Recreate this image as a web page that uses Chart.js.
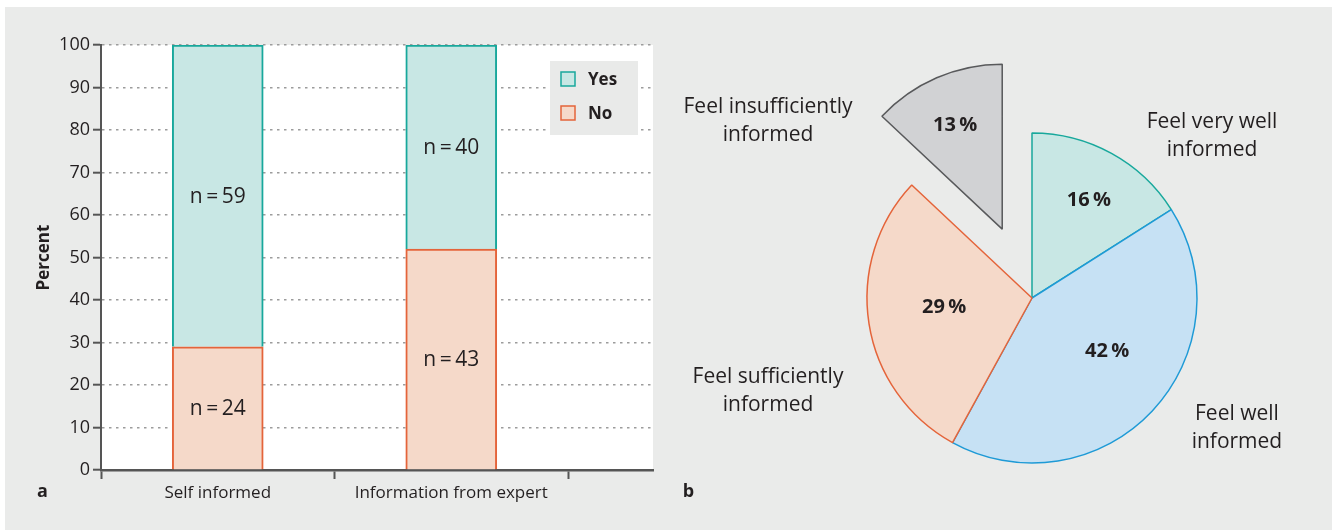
<!DOCTYPE html>
<html>
<head>
<meta charset="utf-8">
<script src="https://cdn.jsdelivr.net/npm/chart.js@4.4.1/dist/chart.umd.min.js"></script>
<style>
  html, body { margin: 0; padding: 0; background: #ffffff; }
  #wrap { position: relative; width: 1332px; height: 530px; overflow: hidden; background: #ffffff; }
  #panel { position: absolute; left: 5px; top: 7px; right: 0; bottom: 0; background: #eaebea; }
  #c1 { position: absolute; left: 0; top: 0; }
  #c2 { position: absolute; left: 660px; top: 0; }
</style>
</head>
<body>
<div id="wrap">
  <div id="panel"></div>
  <canvas id="c1" width="660" height="530"></canvas>
  <canvas id="c2" width="672" height="530"></canvas>
</div>
<script>
// ---------- data ----------
const categories = ['Self informed', 'Information from expert'];
const noPercent = [29, 52];
const yesPercent = [71, 48];
const noCount = [24, 43];
const yesCount = [59, 40];
const yTickValues = [0, 10, 20, 30, 40, 50, 60, 70, 80, 90, 100];

const pieLabels = [
  ['Feel very well', 'informed'],
  ['Feel well', 'informed'],
  ['Feel sufficiently', 'informed'],
  ['Feel insufficiently', 'informed']
];
const pieValues = [16, 42, 29, 13];

// ---------- styles ----------
const FONT = '"Open Sans", "DejaVu Sans", sans-serif';
const TEXT = '#231f20';
const AXIS = '#555555';
const TEAL_FILL = '#c8e7e4', TEAL_LINE = '#18a89c';
const PEACH_FILL = '#f5d9c9', PEACH_LINE = '#e4643a';
const BLUE_FILL = '#c6e1f4', BLUE_LINE = '#1e9ad6';
const GRAY_FILL = '#d1d2d4', GRAY_LINE = '#58595b';

// ---------- bar chart (a) ----------
const barPlugin = {
  id: 'barExtras',
  beforeDraw(chart) {
    const {ctx, chartArea: a} = chart;
    ctx.save();
    ctx.fillStyle = '#ffffff';
    ctx.fillRect(a.left, a.top, a.right - a.left, a.bottom - a.top);
    ctx.restore();
  },
  afterDatasetsDraw(chart) {
    const {ctx, chartArea: a} = chart;
    ctx.save();
    // segment labels
    ctx.font = '21px ' + FONT;
    ctx.fillStyle = TEXT;
    ctx.textAlign = 'center';
    ctx.textBaseline = 'middle';
    chart.data.datasets.forEach((ds, di) => {
      const meta = chart.getDatasetMeta(di);
      meta.data.forEach((el, i) => {
        const cy = (el.y + el.base) / 2;
        ctx.fillText('n\u2009=\u2009' + ds.counts[i], el.x, cy + 1);
      });
    });
    // legend box inside the plot area
    const bx = a.right - 103, by = a.top + 16, bw = 88, bh = 74;
    ctx.fillStyle = '#e9eae9';
    ctx.fillRect(bx, by, bw, bh);
    const order = chart.data.datasets.slice().reverse();
    ctx.font = 'bold 17px ' + FONT;
    ctx.textAlign = 'left';
    order.forEach((ds, k) => {
      const cy = by + 18 + k * 34;
      ctx.fillStyle = ds.backgroundColor;
      ctx.fillRect(bx + 11, cy - 7, 14, 14);
      ctx.strokeStyle = ds.borderColor;
      ctx.lineWidth = 1.5;
      ctx.strokeRect(bx + 11, cy - 7, 14, 14);
      ctx.fillStyle = TEXT;
      ctx.fillText(ds.label, bx + 38, cy + 1);
    });
    ctx.restore();
  },
  afterDraw(chart) {
    const {ctx} = chart;
    ctx.save();
    ctx.font = 'bold 18px ' + FONT;
    ctx.fillStyle = TEXT;
    ctx.textAlign = 'center';
    ctx.textBaseline = 'alphabetic';
    ctx.fillText('a', 42.5, 497);
    ctx.restore();
  }
};

const boundaries = categories.map((_, i) => i - 0.5).concat([categories.length - 0.5]);
const xTickValues = boundaries.concat(categories.map((_, i) => i)).sort((p, q) => p - q);

new Chart(document.getElementById('c1'), {
  type: 'bar',
  data: {
    datasets: [
      { label: 'No', data: noPercent.map((v, i) => ({x: i, y: v})), counts: noCount,
        backgroundColor: PEACH_FILL, borderColor: PEACH_LINE, borderWidth: 2 },
      { label: 'Yes', data: yesPercent.map((v, i) => ({x: i, y: v})), counts: yesCount,
        backgroundColor: TEAL_FILL, borderColor: TEAL_LINE, borderWidth: 2 }
    ]
  },
  options: {
    responsive: false,
    animation: false,
    events: [],
    layout: { padding: { left: 0, top: 45, right: 7, bottom: 0 } },
    datasets: { bar: { barThickness: 91 } },
    plugins: { legend: { display: false }, tooltip: { enabled: false } },
    scales: {
      x: {
        type: 'linear',
        stacked: true,
        offset: false,
        min: -0.5,
        max: 1.864,
        z: 1,
        afterBuildTicks: (s) => { s.ticks = xTickValues.map(v => ({value: v})); },
        afterFit: (s) => { s.height = 60; },
        ticks: {
          autoSkip: false, maxRotation: 0, minRotation: 0, padding: 4,
          color: TEXT, font: { family: FONT, size: 17 },
          callback: (v) => Number.isInteger(v) ? categories[v] : ''
        },
        grid: {
          offset: false,
          drawOnChartArea: false, tickLength: 9, tickWidth: 2,
          color: AXIS,
          tickColor: (c) => (c.tick && Number.isInteger(c.tick.value)) ? 'rgba(0,0,0,0)' : AXIS
        },
        border: { color: AXIS, width: 2.5 }
      },
      y: {
        stacked: true,
        min: 0,
        max: 100,
        afterBuildTicks: (s) => { s.ticks = yTickValues.map(v => ({value: v})); },
        afterFit: (s) => { s.width = 101; },
        ticks: { color: TEXT, font: { family: FONT, size: 18 }, padding: 3 },
        grid: { color: '#9c9c9c', lineWidth: 1.4, tickColor: AXIS, tickLength: 8, tickWidth: 2 },
        border: { color: AXIS, width: 2, dash: [2.5, 4.5] },
        title: { display: true, text: 'Percent', color: TEXT,
                 font: { family: FONT, size: 17, weight: 'bold' }, padding: { top: 34, bottom: 0 } }
      }
    }
  },
  plugins: [barPlugin]
});

// ---------- pie chart (b) ----------
const piePlugin = {
  id: 'pieExtras',
  afterDatasetsUpdate(chart, args, opts) {
    const meta = chart.getDatasetMeta(0);
    meta.data.forEach((arc, i) => {
      const d = opts.explode[i] || 0;
      if (!d) return;
      const mid = (arc.startAngle + arc.endAngle) / 2;
      arc.x += Math.cos(mid) * d;
      arc.y += Math.sin(mid) * d;
    });
  },
  afterDatasetsDraw(chart, args, opts) {
    const {ctx, chartArea: a} = chart;
    const meta = chart.getDatasetMeta(0);
    const values = chart.data.datasets[0].data;
    const cx = (a.left + a.right) / 2, cy = (a.top + a.bottom) / 2;
    ctx.save();
    ctx.textAlign = 'center';
    ctx.textBaseline = 'middle';
    ctx.fillStyle = TEXT;
    meta.data.forEach((arc, i) => {
      const R = arc.outerRadius;
      const p = opts.valuePos[i];
      ctx.font = 'bold 20px ' + FONT;
      ctx.fillText(values[i] + '\u2009%', arc.x + p[0] * R, arc.y + p[1] * R);
      const q = opts.labelPos[i];
      const lines = chart.data.labels[i];
      ctx.font = '21px ' + FONT;
      lines.forEach((ln, k) => {
        ctx.fillText(ln, cx + q[0] * R, cy + q[1] * R + (k - (lines.length - 1) / 2) * 28);
      });
    });
    ctx.font = 'bold 18px ' + FONT;
    ctx.textBaseline = 'alphabetic';
    ctx.fillText('b', 28.5, 497);
    ctx.restore();
  }
};

new Chart(document.getElementById('c2'), {
  type: 'pie',
  data: {
    labels: pieLabels,
    datasets: [{
      data: pieValues,
      backgroundColor: [TEAL_FILL, BLUE_FILL, PEACH_FILL, GRAY_FILL],
      borderColor: [TEAL_LINE, BLUE_LINE, PEACH_LINE, GRAY_LINE],
      borderWidth: 1.5
    }]
  },
  options: {
    responsive: false,
    animation: false,
    events: [],
    radius: 165,
    layout: { padding: { left: 122, right: 50, top: 66, bottom: 0 } },
    plugins: {
      legend: { display: false },
      tooltip: { enabled: false },
      pieExtras: {
        explode: [0, 0, 0, 75],
        valuePos: [[0.345, -0.594], [0.455, 0.325], [-0.533, 0.058], [-0.285, -0.630]],
        labelPos: [[1.091, -0.982], [1.242, 0.788], [-1.6, 0.564], [-1.6, -1.07]]
      }
    }
  },
  plugins: [piePlugin]
});
</script>
</body>
</html>
